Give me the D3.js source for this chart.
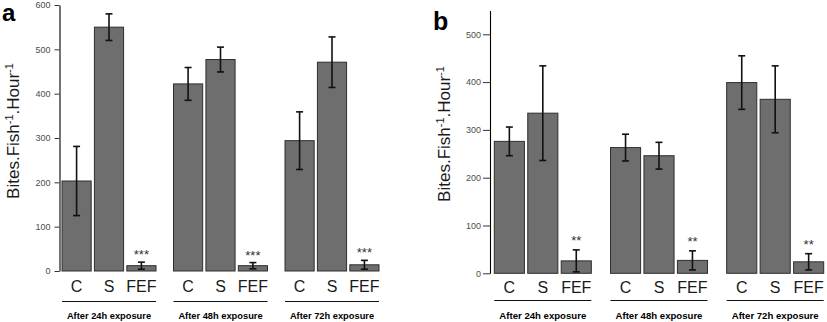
<!DOCTYPE html>
<html>
<head>
<meta charset="utf-8">
<script src="https://cdn.jsdelivr.net/npm/d3@7"></script>
<style>
  body { margin: 0; background: #fff; }
  svg { display: block; font-family: "Liberation Sans", Arial, sans-serif; }
  .tick text { fill: #4d4d4d; }
</style>
</head>
<body>
<script>
const WIDTH = 827;
const HEIGHT = 322;

const groups = ['After 24h exposure', 'After 48h exposure', 'After 72h exposure'];
const treatments = ['C', 'S', 'FEF'];
const yTicksA = [0, 100, 200, 300, 400, 500, 600];
const yTicksB = [0, 100, 200, 300, 400, 500];

// mean bites per fish per hour, one row per exposure time (C, S, FEF)
const meansA = [[203, 550, 12], [422, 477, 12], [294, 471, 14]];
const errA = [[78, 30, 8], [37, 28, 7], [65, 57, 10]];
const signifA = ['***', '***', '***'];

const meansB = [[276, 335, 26], [263, 246, 27], [399, 364, 24]];
const errB = [[30, 99, 23], [28, 28, 20], [56, 70, 17]];
const signifB = ['**', '**', '**'];

const svg = d3.select('body')
  .append('svg')
  .attr('width', WIDTH)
  .attr('height', HEIGHT);

function drawPanel(p) {
  const g = svg.append('g');

  const y = d3.scaleLinear()
    .domain(p.yDomain)
    .range(p.yRange);

  const x0 = d3.scaleBand()
    .domain(groups)
    .range(p.xRange)
    .paddingInner(p.groupPad)
    .paddingOuter(0);

  const x1 = d3.scaleBand()
    .domain(treatments)
    .range([0, x0.bandwidth()])
    .paddingInner(0.1)
    .paddingOuter(0);

  const rows = [];
  groups.forEach((grp, gi) => {
    treatments.forEach((t, ti) => {
      rows.push({ grp, t, v: p.means[gi][ti], e: p.errs[gi][ti], sig: ti === 2 ? p.signif[gi] : '' });
    });
  });

  const cx = d => x0(d.grp) + x1(d.t) + x1.bandwidth() / 2;

  // bars
  g.selectAll('rect.bar')
    .data(rows)
    .enter()
    .append('rect')
    .attr('class', 'bar')
    .attr('x', d => x0(d.grp) + x1(d.t))
    .attr('y', d => y(d.v))
    .attr('width', x1.bandwidth())
    .attr('height', d => y(0) - y(d.v))
    .attr('fill', '#6e6e6e')
    .attr('stroke', '#2e2e2e')
    .attr('stroke-width', 1);

  // error bars
  const eb = g.selectAll('g.err')
    .data(rows)
    .enter()
    .append('g')
    .attr('class', 'err')
    .attr('stroke', '#111')
    .attr('stroke-width', 1.6);

  eb.append('line')
    .attr('x1', cx).attr('x2', cx)
    .attr('y1', d => y(d.v + d.e))
    .attr('y2', d => y(Math.max(d.v - d.e, 0)));
  eb.append('line')
    .attr('x1', d => cx(d) - 3.5).attr('x2', d => cx(d) + 3.5)
    .attr('y1', d => y(d.v + d.e)).attr('y2', d => y(d.v + d.e));
  eb.append('line')
    .attr('x1', d => cx(d) - 3.5).attr('x2', d => cx(d) + 3.5)
    .attr('y1', d => y(Math.max(d.v - d.e, 0))).attr('y2', d => y(Math.max(d.v - d.e, 0)));

  // significance stars
  g.selectAll('text.sig')
    .data(rows.filter(d => d.sig))
    .enter()
    .append('text')
    .attr('class', 'sig')
    .attr('x', cx)
    .attr('y', d => y(d.v + d.e) - p.sigOffset)
    .attr('text-anchor', 'middle')
    .attr('font-size', 13)
    .attr('fill', '#333')
    .text(d => d.sig);

  // y axis
  const yAxis = d3.axisLeft(y)
    .tickValues(p.yTicks)
    .tickSize(p.tickSize)
    .tickSizeOuter(0)
    .tickPadding(p.tickPad);

  const ax = g.append('g')
    .attr('transform', 'translate(' + p.axisX + ',0)')
    .call(yAxis);
  ax.selectAll('text').attr('font-size', p.tickFont).attr('font-family', null);
  ax.select('.domain').attr('stroke', '#000').attr('stroke-width', 1.1);
  ax.selectAll('.tick line').attr('stroke', '#333');

  // treatment labels under each bar
  g.selectAll('text.treat')
    .data(rows)
    .enter()
    .append('text')
    .attr('class', 'treat')
    .attr('x', cx)
    .attr('y', p.treatY)
    .attr('text-anchor', 'middle')
    .attr('font-size', 16)
    .attr('fill', '#1a1a1a')
    .text(d => d.t);

  // group brackets and captions
  g.selectAll('line.under')
    .data(groups)
    .enter()
    .append('line')
    .attr('class', 'under')
    .attr('x1', d => x0(d))
    .attr('x2', d => x0(d) + x0.bandwidth())
    .attr('y1', p.underY)
    .attr('y2', p.underY)
    .attr('stroke', '#111')
    .attr('stroke-width', 1.2);

  g.selectAll('text.grp')
    .data(groups)
    .enter()
    .append('text')
    .attr('class', 'grp')
    .attr('x', d => x0(d) + x0.bandwidth() / 2)
    .attr('y', p.grpY)
    .attr('text-anchor', 'middle')
    .attr('font-size', p.grpFont)
    .attr('font-weight', 'bold')
    .attr('fill', '#000')
    .text(d => d);

  // y axis title with superscripts
  const title = g.append('text')
    .attr('transform', 'translate(' + p.titleX + ',' + p.titleY + ') rotate(-90)')
    .attr('text-anchor', 'middle')
    .attr('font-size', 17)
    .attr('fill', '#1a1a1a');
  title.append('tspan').text('Bites.Fish');
  title.append('tspan').attr('dy', -6).attr('font-size', 11).text('-1');
  title.append('tspan').attr('dy', 6).text('.Hour');
  title.append('tspan').attr('dy', -6).attr('font-size', 11).text('-1');

  // panel letter
  g.append('text')
    .attr('x', p.letterX)
    .attr('y', p.letterY)
    .attr('font-size', p.letterFont)
    .attr('font-weight', 'bold')
    .attr('fill', '#000')
    .text(p.letter);
}

drawPanel({
  letter: 'a', letterX: 2, letterY: 21, letterFont: 24,
  means: meansA, errs: errA, signif: signifA, sigOffset: 3,
  yDomain: [0, 600], yRange: [271, 5], yTicks: yTicksA,
  xRange: [62, 379], groupPad: 0.157,
  axisX: 59.5, tickSize: 5, tickPad: 4, tickFont: 9,
  treatY: 292, underY: 301.5, grpY: 318.5, grpFont: 9.3,
  titleX: 19, titleY: 131
});

drawPanel({
  letter: 'b', letterX: 433, letterY: 29.5, letterFont: 25,
  means: meansB, errs: errB, signif: signifB, sigOffset: 5,
  yDomain: [0, 550], yRange: [273.3, 10.4], yTicks: yTicksB,
  xRange: [494.3, 823.7], groupPad: 0.165,
  axisX: 490, tickSize: 7, tickPad: 2, tickFont: 9,
  treatY: 292.5, underY: 300.5, grpY: 318.5, grpFont: 9.6,
  titleX: 450, titleY: 134
});
</script>
</body>
</html>
